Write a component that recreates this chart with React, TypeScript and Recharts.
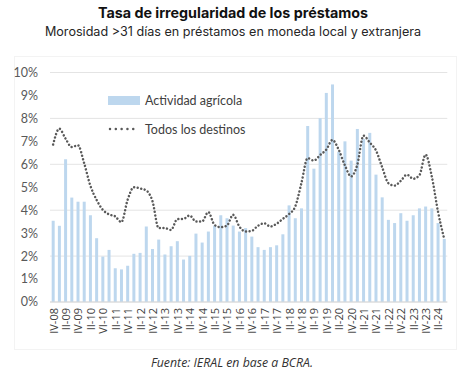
import React from 'react';
import { ComposedChart, Bar, Line, XAxis, YAxis, CartesianGrid, Legend } from 'recharts';

// trimestres (se respeta la etiqueta "VI-10" del original)
const quarters = [
  'IV-08',
  'I-09', 'II-09', 'III-09', 'IV-09',
  'I-10', 'II-10', 'III-10', 'VI-10',
  'I-11', 'II-11', 'III-11', 'IV-11',
  'I-12', 'II-12', 'III-12', 'IV-12',
  'I-13', 'II-13', 'III-13', 'IV-13',
  'I-14', 'II-14', 'III-14', 'IV-14',
  'I-15', 'II-15', 'III-15', 'IV-15',
  'I-16', 'II-16', 'III-16', 'IV-16',
  'I-17', 'II-17', 'III-17', 'IV-17',
  'I-18', 'II-18', 'III-18', 'IV-18',
  'I-19', 'II-19', 'III-19', 'IV-19',
  'I-20', 'II-20', 'III-20', 'IV-20',
  'I-21', 'II-21', 'III-21', 'IV-21',
  'I-22', 'II-22', 'III-22', 'IV-22',
  'I-23', 'II-23', 'III-23', 'IV-23',
  'I-24', 'II-24', 'III-24',
];

// Actividad agrícola (%)
const agroRates = [
  3.54,
  3.32, 6.22, 4.55, 4.37,
  4.37, 3.78, 2.78, 1.98,
  2.27, 1.47, 1.42, 1.58,
  2.1, 2.14, 3.29, 2.31,
  2.72, 2.07, 2.43, 2.65,
  1.85, 2.01, 2.98, 2.59,
  3.07, 3.33, 3.78, 3.65,
  3.33, 3.07, 3.22, 2.85,
  2.39, 2.27, 2.39, 2.47,
  2.95, 4.21, 3.65, 4.08,
  7.67, 5.81, 8.01, 9.11,
  9.48, 6.55, 7.0, 6.16,
  7.54, 7.1, 7.37, 5.55,
  4.56, 3.58, 3.44, 3.87,
  3.54, 3.78, 4.08, 4.16,
  4.08, 3.44, 2.75,
];

// Todos los destinos (%)
const allRates = [
  6.86,
  7.55, 7.12, 6.75, 6.83,
  6.05, 5.07, 4.45, 4.02,
  3.82, 3.73, 3.48, 4.45,
  5.0, 4.95, 4.86, 4.4,
  3.22, 3.22, 3.14, 3.61,
  3.62, 3.77, 3.51, 3.51,
  3.92, 3.36, 3.26, 3.33,
  3.8, 3.29, 3.07, 3.1,
  3.32, 3.43, 3.29, 3.41,
  3.62, 3.83, 4.16, 5.18,
  6.27, 6.16, 6.4, 6.64,
  7.06, 6.64, 5.96, 5.47,
  5.98, 7.25, 6.95, 6.61,
  5.88, 5.18, 5.07, 5.28,
  5.55, 5.37, 5.52, 6.42,
  5.47, 3.94, 2.75,
];

const yTicks = [0, 1, 2, 3, 4, 5, 6, 7, 8, 9, 10];

const BAR_COLOR = '#BDD7EE';
const LINE_COLOR = '#595959';

const chartData = quarters.map((q, i) => ({
  q,
  agro: agroRates[i],
  todos: allRates[i],
}));

const QuarterTick = (props: any) => {
  const { x, y, payload } = props;
  return (
    <text
      x={x}
      y={y}
      transform={`rotate(-90 ${x} ${y})`}
      textAnchor="end"
      dominantBaseline="central"
      fontFamily="'Open Sans'"
      fontSize={11}
      fill="#404040"
    >
      {payload.value}
    </text>
  );
};

const LegendBox = () => (
  <div style={{ fontFamily: 'Lato', fontSize: 12.5, color: '#404040' }}>
    <div style={{ display: 'flex', alignItems: 'center', height: 16 }}>
      <span style={{ display: 'inline-block', width: 32, height: 9, background: BAR_COLOR, marginRight: 5 }} />
      Actividad agrícola
    </div>
    <div style={{ display: 'flex', alignItems: 'center', height: 16, marginTop: 13 }}>
      <svg width={32} height={6} style={{ marginRight: 5 }}>
        <line
          x1={2}
          y1={3}
          x2={31}
          y2={3}
          stroke={LINE_COLOR}
          strokeWidth={2.5}
          strokeDasharray="0.01 5.8"
          strokeLinecap="round"
        />
      </svg>
      Todos los destinos
    </div>
  </div>
);

const App: React.FC = () => {
  return (
    <div style={{ position: 'absolute', top: 0, left: 0, width: 468, height: 376, background: '#fff' }}>
      <div
        style={{
          position: 'absolute',
          top: 4,
          width: 466,
          textAlign: 'center',
          fontFamily: 'Inter',
          fontWeight: 700,
          fontSize: 14.3,
          color: '#111',
          lineHeight: '18px',
        }}
      >
        Tasa de irregularidad de los préstamos
      </div>
      <div
        style={{
          position: 'absolute',
          top: 23,
          width: 466,
          textAlign: 'center',
          fontFamily: 'Inter',
          fontSize: 12.6,
          color: '#262626',
          lineHeight: '18px',
        }}
      >
        Morosidad &gt;31 días en préstamos en moneda local y extranjera
      </div>
      <div
        style={{
          position: 'absolute',
          left: 14,
          top: 56,
          width: 441,
          height: 292,
          border: '1px solid #f3f3f3',
        }}
      />
      <div style={{ position: 'absolute', top: 0, left: 0 }}>
        <ComposedChart
          width={468}
          height={376}
          data={chartData}
          margin={{ top: 72.5, right: 20.7, bottom: 34, left: 0 }}
          barCategoryGap="27%"
        >
          <CartesianGrid vertical={false} stroke="#e4e4e4" />
          <XAxis
            dataKey="q"
            interval={1}
            height={40}
            tickLine={false}
            tickSize={0}
            tickMargin={6}
            axisLine={{ stroke: '#d9d9d9' }}
            tick={<QuarterTick />}
          />
          <YAxis
            width={50}
            domain={[0, 10]}
            ticks={yTicks}
            tickFormatter={(v: number) => `${v}%`}
            axisLine={false}
            tickLine={false}
            tickMargin={6}
            tick={{ fill: '#595959', fontSize: 12.5, fontFamily: 'Lato' }}
          />
          <Legend
            layout="vertical"
            align="center"
            verticalAlign="middle"
            wrapperStyle={{ top: 92, left: 108, width: 200 }}
            content={<LegendBox />}
          />
          <Bar dataKey="agro" name="Actividad agrícola" fill={BAR_COLOR} isAnimationActive={false} />
          <Line
            type="monotone"
            dataKey="todos"
            name="Todos los destinos"
            stroke={LINE_COLOR}
            strokeWidth={2.5}
            strokeDasharray="0.01 3.6"
            strokeLinecap="round"
            dot={false}
            activeDot={false}
            isAnimationActive={false}
          />
        </ComposedChart>
      </div>
      <div
        style={{
          position: 'absolute',
          top: 355,
          width: 464,
          textAlign: 'center',
          fontFamily: "'Open Sans'",
          fontStyle: 'italic',
          fontSize: 12.3,
          color: '#333',
          lineHeight: '16px',
        }}
      >
        Fuente: IERAL en base a BCRA.
      </div>
    </div>
  );
};

export default App;
